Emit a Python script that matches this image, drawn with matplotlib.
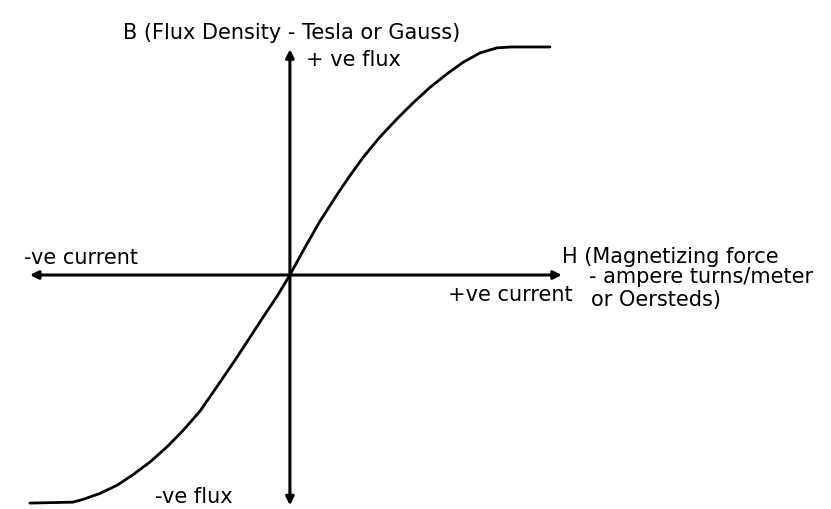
import matplotlib
matplotlib.use("Agg")
import matplotlib.pyplot as plt

# B-H magnetisation curve (normalised H and B, saturation at |B| = 1)
H = [-1.00, -0.835, -0.796, -0.731, -0.665, -0.604, -0.538, -0.473, -0.412,
     -0.346, -0.258, -0.204, -0.154, -0.104, -0.05, 0.0,
     0.05, 0.115, 0.181, 0.231, 0.281, 0.346, 0.412, 0.473, 0.538,
     0.604, 0.665, 0.731, 0.796, 0.85, 1.00]
B = [-1.00, -0.996, -0.984, -0.958, -0.922, -0.876, -0.820, -0.754, -0.683,
     -0.597, -0.452, -0.361, -0.274, -0.186, -0.094, 0.0,
     0.105, 0.235, 0.352, 0.436, 0.515, 0.605, 0.685, 0.754, 0.822,
     0.882, 0.932, 0.974, 0.996, 1.00, 1.00]

# axis arrow extents
h_axis = (-1.0, 1.046)
b_axis = (-1.01, 0.99)

fig = plt.figure(figsize=(8.31, 5.09), dpi=100)
ax = fig.add_axes([0, 0, 1, 1])
ax.set_xlim(-1.115, 2.081)
ax.set_ylim(-1.026, 1.206)
ax.axis('off')

arrow = dict(arrowstyle='<|-|>', color='black', lw=2.2,
             mutation_scale=12, shrinkA=0, shrinkB=0)
ax.annotate('', xy=(h_axis[1], 0), xytext=(h_axis[0], 0), arrowprops=arrow)
ax.annotate('', xy=(0, b_axis[1]), xytext=(0, b_axis[0]), arrowprops=arrow)

ax.plot(H, B, color='black', lw=2.0, solid_capstyle='round', solid_joinstyle='round')

fs = 15
ax.text(0.008, 1.061, 'B (Flux Density - Tesla or Gauss)', ha='center', va='center', fontsize=fs)
ax.text(0.062, 0.943, '+ ve flux', ha='left', va='center', fontsize=fs)
ax.text(-1.023, 0.075, '-ve current', ha='left', va='center', fontsize=fs)
ax.text(1.046, 0.079, 'H (Magnetizing force', ha='left', va='center', fontsize=fs)
ax.text(1.15, -0.009, '- ampere turns/meter', ha='left', va='center', fontsize=fs)
ax.text(1.158, -0.11, 'or Oersteds)', ha='left', va='center', fontsize=fs)
ax.text(1.088, -0.088, '+ve current', ha='right', va='center', fontsize=fs)
ax.text(-0.519, -0.975, '-ve flux', ha='left', va='center', fontsize=fs)

fig.savefig('out.png', dpi=100, facecolor='white')
